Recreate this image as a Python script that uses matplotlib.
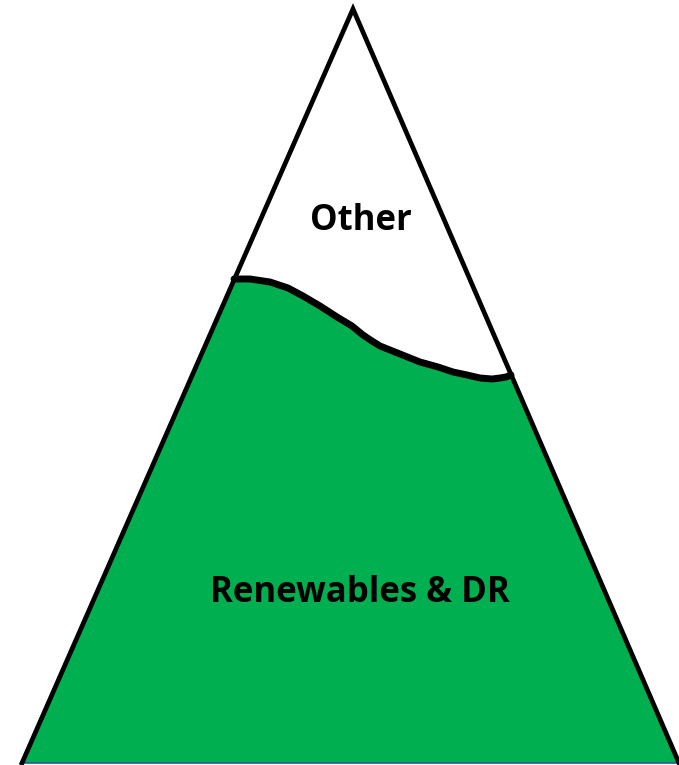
import numpy as np
import matplotlib.pyplot as plt

# triangle outline (pixel-like coords, y grows downward)
tri_x = [22, 353, 679]
tri_y = [763, 9, 763]

# hand-drawn boundary between the two parts
wave_x = [234, 250, 270, 288, 303, 320, 337, 352, 363, 372, 380, 400, 420, 438, 453, 467, 480, 492, 500, 506, 511]
wave_y = [279, 279, 282, 288, 296, 306, 317, 326, 335, 341, 346, 354, 362, 367, 372, 375, 378, 379, 378, 377, 375]

labels = ["Other", "Renewables & DR"]
label_x = [361, 360]
label_y = [221, 593]

fig = plt.figure(figsize=(6.79, 7.65), dpi=100)
ax = fig.add_axes([0, 0, 1, 1])
ax.set_xlim(0, 679)
ax.set_ylim(765, 0)
ax.axis("off")

# green lower part
poly_x = [tri_x[0], tri_x[2]] + wave_x[::-1]
poly_y = [tri_y[0], tri_y[2]] + wave_y[::-1]
ax.fill(poly_x, poly_y, color="#00B050", lw=0, zorder=1)
ax.plot([tri_x[0], tri_x[2]], [tri_y[0], tri_y[2]], color="#2F5597", lw=1.2, zorder=2)

# triangle sides
ax.plot(tri_x, tri_y, color="black", lw=3.4, solid_joinstyle="miter", zorder=3)
ax.plot(wave_x, wave_y, color="black", lw=5, solid_capstyle="round",
        solid_joinstyle="round", zorder=3)

for t, x, y in zip(labels, label_x, label_y):
    ax.text(x, y, t, ha="center", va="center", fontsize=25, fontweight="bold",
            family="Open Sans", color="black", zorder=4)

fig.savefig("out.png", dpi=100)
